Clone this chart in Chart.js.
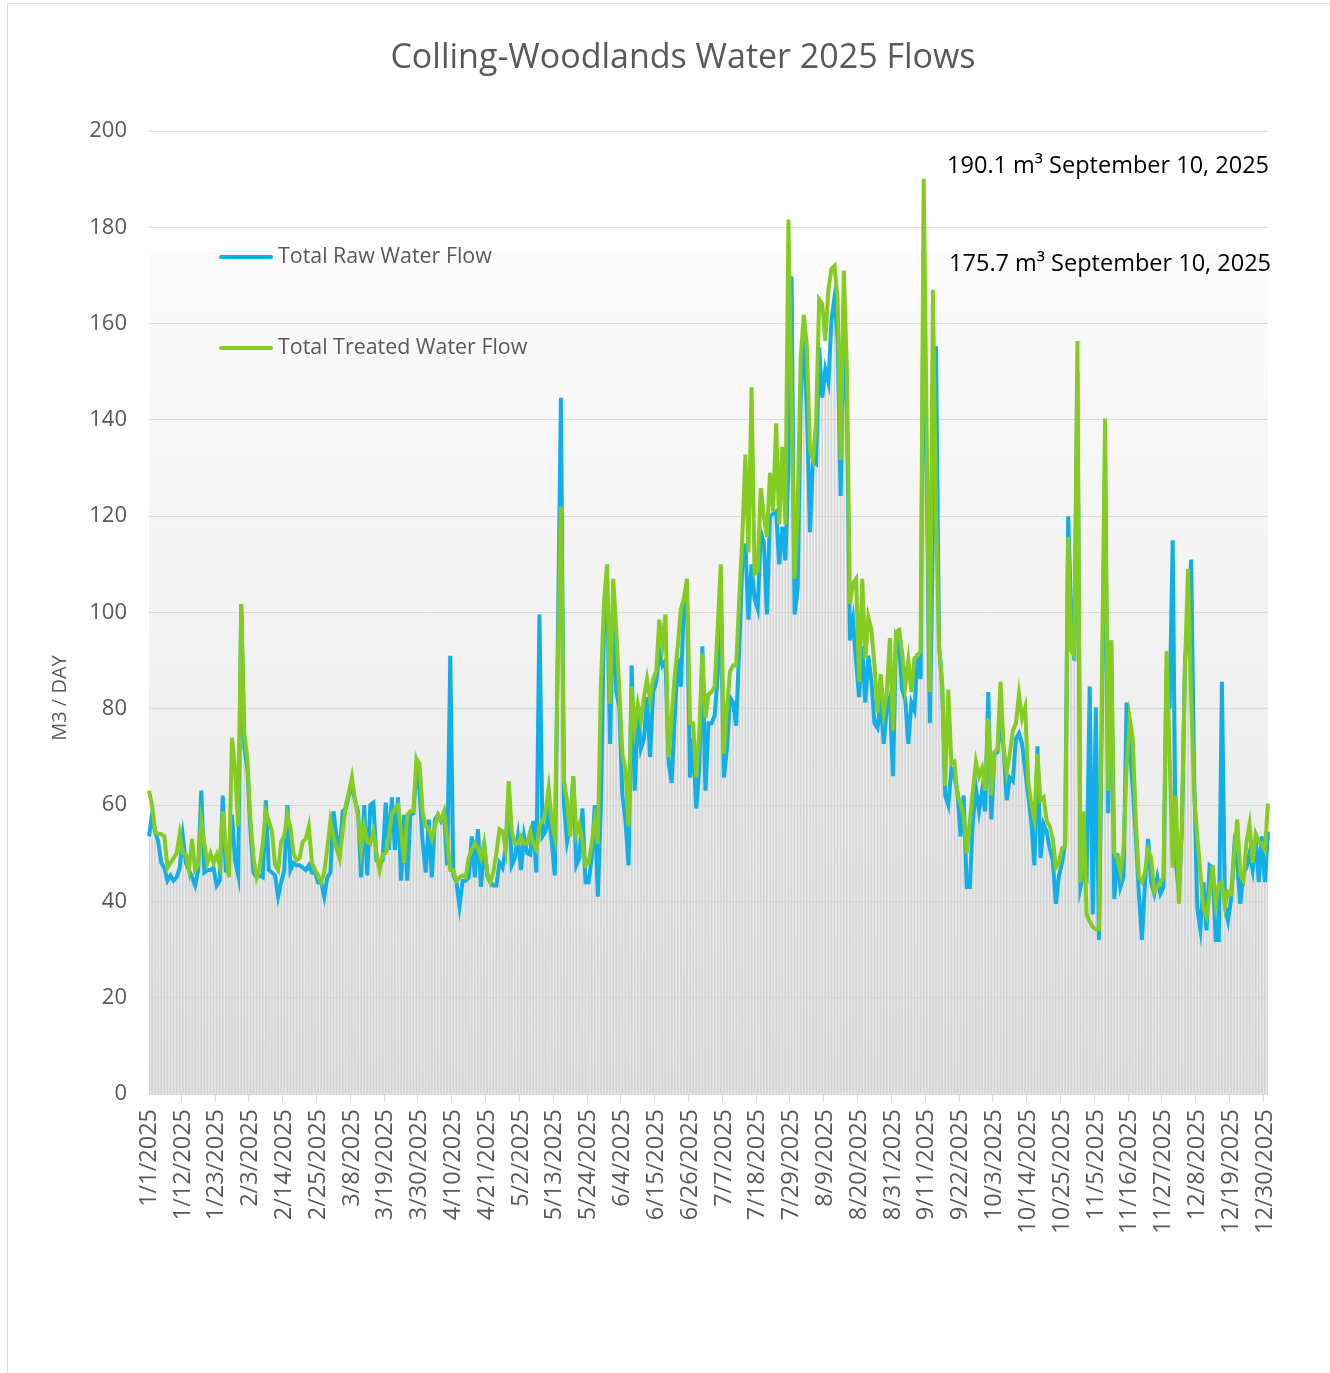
<!DOCTYPE html>
<html>
<head>
<meta charset="utf-8">
<script src="https://cdn.jsdelivr.net/npm/chart.js@4.4.1/dist/chart.umd.min.js"></script>
<style>
  html, body { margin: 0; padding: 0; background: #fff; }
  #wrap { position: relative; width: 1330px; height: 1373px; }
  #frame { position: absolute; left: 7px; top: 3px; right: 0; bottom: 0;
           border-left: 1px solid #d9d9d9; border-top: 1px solid #d9d9d9; pointer-events: none; }
</style>
</head>
<body>
<div id="wrap">
  <canvas id="flowChart" width="1330" height="1373"></canvas>
  <div id="frame"></div>
</div>
<script>
// one category per day of 2025
const days = [];
for (let d = 0; d < 365; d++) {
  const dt = new Date(2025, 0, 1 + d);
  days.push((dt.getMonth() + 1) + '/' + dt.getDate() + '/2025');
}
const labelEvery = 11;

// m3 per day
const rawFlow = [
  53.5, 58, 54.5, 52.4, 48, 47, 44.3, 45.4, 44.3, 45,
  47, 53.5, 48, 46.5, 45, 43.3, 46.5, 63, 46, 46.5,
  46.5, 47, 43.3, 44.3, 62, 46, 50, 58, 48.5, 45.4,
  101.7, 72, 67.5, 54.5, 46, 45, 45.4, 45, 61, 46.5,
  46, 45.4, 41, 44, 46.5, 60, 46.5, 48, 47.5, 47.5,
  47, 46.5, 47.5, 46, 46, 44, 44, 41, 45, 46,
  58.7, 53.5, 50, 58.7, 59.3, 62, 64, 61, 58.7, 45,
  60, 45.4, 60, 60.5, 48.5, 48, 48.5, 60.5, 50.7, 61.6,
  50.7, 61.6, 44.3, 58, 44.3, 58, 58.3, 67.5, 63, 52.4,
  46, 57, 45, 57, 58, 56.7, 58, 47.5, 91, 45.4,
  44, 39, 44.3, 44.3, 45, 53.5, 45, 55, 43, 52.4,
  45.4, 44, 43.3, 43.3, 48, 47, 51, 62, 47.5, 49,
  53.5, 46.5, 53.5, 50, 49.7, 56.7, 46, 99.6, 53.5, 54.5,
  58.7, 52.4, 45.4, 95, 144.6, 60, 52.4, 55.6, 66, 47.5,
  49, 59.3, 44, 44, 49, 60, 41, 60, 97, 107,
  72.7, 103.8, 83.5, 80.3, 62, 56.7, 47.5, 89, 63, 80.3,
  71.7, 73.8, 82.4, 70, 83.5, 85.6, 92, 89, 90, 69,
  64.6, 78, 90.5, 84.6, 101.8, 102.8, 65.7, 73.8, 59.3, 67.5,
  93, 63, 77, 77, 78.6, 87, 104, 65.7, 71.7, 82.4,
  81.3, 76.5, 93, 110, 114.3, 98.5, 110, 102.8, 100.7, 116.7,
  114.6, 99.6, 120, 120.5, 121, 110, 117.8, 110.8, 130, 169.8,
  99.6, 104.9, 144.6, 158.6, 142.5, 116.7, 131.7, 131, 155, 144.6,
  150.5, 147.8, 160.7, 165.5, 156.4, 124.2, 160.7, 142.5, 94.2, 98.5,
  90, 82.4, 93, 81.3, 91, 85.6, 77, 76, 82, 72.7,
  80.3, 82.4, 66, 94.7, 93, 84, 82, 72.7, 81.3, 79.7,
  91.5, 86.2, 175.7, 126, 77, 116, 155.3, 93, 84.6, 62,
  60, 67.5, 66, 62.6, 53.5, 62, 43, 43, 56.7, 63.5,
  58.7, 63, 58.7, 83.5, 57, 70.6, 71, 78, 71.7, 61,
  65.7, 65, 73.8, 74.9, 72.7, 67.5, 62, 56.7, 47.5, 72.2,
  49, 56, 54.5, 51, 48.5, 39.5, 45.4, 48, 52, 120,
  99.6, 90, 150, 43, 46, 45, 84.6, 37.3, 80.3, 32,
  80, 131.7, 58.3, 94.2, 40.5, 50, 43, 45, 81.3, 72.7,
  63.5, 53.5, 41.6, 32, 44, 53, 44, 41.6, 45, 41.6,
  43, 88, 80, 115, 48, 42, 55, 90, 98, 111,
  65, 38.5, 34.2, 44, 34, 47.5, 47, 32, 32, 85.6,
  39, 36, 40.6, 51, 47.5, 39.5, 46, 47, 50, 46.5,
  53.5, 44, 53.5, 44, 54.5
];

const treatedFlow = [
  63, 60, 54.5, 54, 54, 53.5, 47, 48, 49, 50,
  54, 50, 49.7, 46.5, 53, 46.5, 47.5, 56.7, 52, 48,
  50, 48, 49.7, 47.5, 58.7, 51, 45, 74, 67.5, 55.6,
  101.7, 75, 69.6, 56.7, 49, 45, 47, 52, 58.7, 56.7,
  54.5, 47.5, 46.5, 52.4, 53.5, 58, 55.4, 50, 48.6, 49,
  52.4, 53, 55.6, 48, 46.5, 45.4, 44, 46, 51, 56.7,
  53.5, 51, 49, 54.5, 60, 62.6, 65.8, 61, 58, 50.7,
  55.6, 52.4, 52, 54.5, 50, 46.5, 49.7, 50, 53.5, 58,
  59.3, 60, 54.5, 48, 58, 58.7, 58.7, 69.6, 68.5, 58.7,
  55.6, 55, 53, 55.6, 58, 57, 58.7, 52.4, 46.5, 46.5,
  44.3, 45, 45.4, 45, 49, 50.7, 52, 51, 49, 52,
  46, 44, 46, 50, 55, 54.5, 51, 65, 54.5, 52,
  52, 53.5, 52, 52, 54.5, 52, 50.7, 55.6, 56.7, 58.7,
  63.5, 56.7, 53.5, 90, 122, 65, 61, 53.5, 66, 54,
  56, 52.4, 47.5, 48, 52, 56.7, 52, 85, 102, 110,
  81, 107, 96.4, 83.5, 70.6, 67.4, 55.6, 84.6, 76, 81,
  77.6, 82.4, 86.2, 81.9, 86.2, 87.8, 98.5, 93.1, 99.6, 70,
  78, 86.7, 93, 100.7, 103, 107, 77, 77, 65.7, 75,
  91.4, 78, 83, 83.5, 84.6, 97, 110, 70.6, 80.3, 87.8,
  89, 89, 102.8, 115.7, 132.8, 112.5, 146.8, 108, 108.7, 125.8,
  120, 115.7, 129, 121, 139.3, 118.3, 134.4, 118.3, 181.6, 144,
  107, 121, 153, 161.8, 155.3, 133.9, 131.7, 139.8, 165, 164,
  156.4, 167, 171.4, 172, 165, 131.7, 171, 151, 101.7, 106,
  107, 85.6, 107, 90.5, 99, 96.4, 89, 79.2, 87.2, 79.2,
  83.5, 94.7, 75.5, 96, 96.4, 91.5, 84.6, 90, 83.5, 90.5,
  91, 92, 190.1, 136, 83.5, 167, 121, 93, 85.6, 64,
  84, 68.6, 69, 62, 60.3, 58, 50, 56.7, 63, 69,
  66, 67.7, 63, 78, 62, 71, 71.7, 85.6, 71.7, 66.8,
  70.6, 75.5, 77, 83, 78, 80.3, 65, 60, 57, 70.6,
  61, 61.6, 56.7, 55.6, 53, 47, 48, 51, 51.4, 115.6,
  92, 91, 156.4, 44, 58.7, 37.3, 35.8, 34.7, 34.2, 34.2,
  87, 140.3, 63, 94.2, 50, 49, 46, 51, 67.5, 78,
  73.8, 56.7, 45, 44, 46, 50.7, 49, 42, 43, 44,
  45, 92, 70, 47, 62, 39.5, 56.7, 89, 109, 82,
  62, 53.5, 46, 38.5, 36.8, 41.6, 47.5, 39.5, 43.3, 44,
  39, 42, 41.6, 50, 57, 45.4, 44.3, 52.4, 56, 48,
  54, 52.4, 52, 50.7, 60.3
];

const chartTitle = 'Colling-Woodlands Water 2025 Flows';
const peakNotes = ['190.1 m\u00b3 September 10, 2025', '175.7 m\u00b3 September 10, 2025'];

const grey = '#595959';
const font = 'Open Sans';

// plot background: white band at top, then a soft grey fade
const plotBg = {
  id: 'plotBg',
  beforeDraw(chart) {
    const { ctx, chartArea: a } = chart;
    const g = ctx.createLinearGradient(0, a.top, 0, a.bottom);
    g.addColorStop(0, '#ffffff');
    g.addColorStop(0.125, '#ffffff');
    g.addColorStop(0.127, '#fbfbfb');
    g.addColorStop(1, '#e6e6e6');
    ctx.save();
    ctx.fillStyle = g;
    ctx.fillRect(a.left, a.top, a.right - a.left, a.bottom - a.top);
    ctx.restore();
  }
};

// title, legend inside the plot, peak notes, y title
const extras = {
  id: 'extras',
  afterDraw(chart) {
    const { ctx, chartArea: a } = chart;
    ctx.save();

    ctx.fillStyle = grey;
    ctx.font = '34px "' + font + '"';
    ctx.textAlign = 'center';
    ctx.textBaseline = 'middle';
    ctx.fillText(chartTitle, 683, 58);

    const lines = chart.data.datasets.filter(ds => ds.type === 'line');
    lines.forEach((ds, i) => {
      const y = a.top + 126 + i * 91;
      ctx.strokeStyle = ds.borderColor;
      ctx.lineWidth = 4;
      ctx.lineCap = 'round';
      ctx.beginPath();
      ctx.moveTo(a.left + 72, y);
      ctx.lineTo(a.left + 122, y);
      ctx.stroke();
      ctx.fillStyle = grey;
      ctx.font = '21.4px "' + font + '"';
      ctx.textAlign = 'left';
      ctx.fillText(ds.label, a.left + 129, y);
    });

    ctx.fillStyle = '#000';
    ctx.font = '23.5px "' + font + '"';
    ctx.textAlign = 'right';
    ctx.fillText(peakNotes[0], a.right + 1, a.top + 35);
    ctx.fillText(peakNotes[1], a.right + 3, a.top + 133);

    ctx.translate(60, 698);
    ctx.rotate(-Math.PI / 2);
    ctx.fillStyle = grey;
    ctx.font = '20px "' + font + '"';
    ctx.textAlign = 'center';
    ctx.fillText('M3 / DAY', 0, 0);
    ctx.restore();
  }
};

const ctx = document.getElementById('flowChart').getContext('2d');
new Chart(ctx, {
  type: 'bar',
  data: {
    labels: days,
    datasets: [
      {
        type: 'line',
        label: 'Total Raw Water Flow',
        data: rawFlow,
        borderColor: '#12aee8',
        borderWidth: 4,
        pointRadius: 0,
        tension: 0,
        order: 1
      },
      {
        type: 'line',
        label: 'Total Treated Water Flow',
        data: treatedFlow,
        borderColor: '#84cc22',
        borderWidth: 4,
        pointRadius: 0,
        tension: 0,
        order: 0
      },
      {
        type: 'bar',
        label: 'shade',
        data: rawFlow,
        backgroundColor: '#d4d4d4',
        barPercentage: 0.55,
        categoryPercentage: 1,
        order: 2
      }
    ]
  },
  options: {
    responsive: false,
    animation: false,
    layout: { padding: { left: 0, right: 62, top: 131, bottom: 0 } },
    plugins: {
      legend: { display: false },
      tooltip: { enabled: false },
      title: { display: false }
    },
    scales: {
      x: {
        offset: false,
        border: { color: '#d9d9d9' },
        grid: {
          drawOnChartArea: false,
          tickLength: 8,
          color: c => (c.index % labelEvery === 0 ? '#d9d9d9' : 'rgba(0,0,0,0)')
        },
        ticks: {
          autoSkip: false,
          minRotation: 90,
          maxRotation: 90,
          padding: 7,
          color: grey,
          font: { family: font, size: 23.5 },
          callback: (v, i) => (i % labelEvery === 0 ? days[i] : '')
        },
        afterFit(scale) { scale.height = 279; }
      },
      y: {
        min: 0,
        max: 200,
        border: { display: false },
        grid: { color: '#d9d9d9', drawTicks: false },
        ticks: {
          stepSize: 20,
          padding: 22,
          color: grey,
          font: { family: font, size: 22 }
        },
        afterFit(scale) { scale.width = 149; }
      }
    }
  },
  plugins: [plotBg, extras]
});
</script>
</body>
</html>
